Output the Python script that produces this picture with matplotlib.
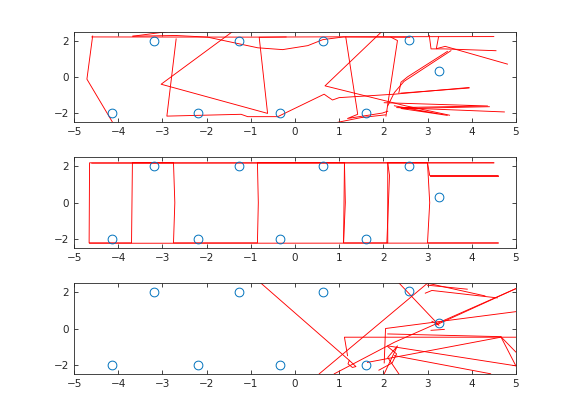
import matplotlib
matplotlib.use('Agg')
import matplotlib.pyplot as plt

# landmark positions
lm_x = [-4.15, -3.2, -2.2, -1.27, -0.33, 0.64, 1.6, 2.57, 3.27]
lm_y = [-2.0, 2.0, -2.0, 2.0, -2.0, 2.0, -2.0, 2.05, 0.33]

# estimated paths, top panel (noisy run)
top_paths = [
    ([-4.6, -1.0, 1.5, 4.5], [2.2, 2.19, 2.21, 2.22]),
    ([-4.58, -4.71, -4.12], [2.25, -0.13, -2.55]),
    ([-3.67, -2.8], [2.24, 2.52]),
    ([-3.67, -2.7, -1.98, -0.84, -0.28, 0.29, 0.63, 1.1, 2.6], [2.24, 2.28, 2.19, 1.6, 1.5, 1.72, 2.05, 2.2, 2.18]),
    ([-2.69, -2.9, -1.22, -1.07, -0.39, 0.66, 0.74, 0.85, 1.0, 2.25, 3.94],
     [2.09, -2.17, -2.07, -2.2, -2.2, -0.96, -1.1, -1.28, -1.15, -0.96, -0.59]),
    ([-1.41, -3.03, -0.62, -0.81, -0.2], [2.5, -0.41, -2.02, 2.18, 2.2]),
    ([1.15, 1.42, 1.19, 1.98, 2.1], [2.19, -2.07, -2.3, -2.0, -1.9]),
    ([0.89, 1.5, 2.05], [-2.55, -2.25, -2.1]),
    ([1.95, 0.68, 2.5, 3.5], [2.46, -0.5, -1.6, -2.12]),
    ([2.17, 2.32, 2.06], [2.19, 2.0, -2.17]),
    ([3.04, 3.08, 3.38, 4.55], [2.28, 1.54, 1.54, 1.44]),
    ([3.25, 3.2, 3.4, 4.81], [2.2, 1.55, 1.68, 0.7]),
    ([3.53, 2.47, 2.25, 2.1], [1.44, -0.25, -0.87, -1.6]),
    ([3.45, 2.55, 2.4, 2.35], [1.4, 0.0, -0.3, -0.9]),
    ([2.4, 3.94], [-0.9, -0.62]),
    ([2.02, 4.36, 2.3, 4.74], [-1.43, -1.61, -1.7, -1.94]),
    ([2.25, 3.45, 2.4, 4.4], [-1.6, -2.13, -1.75, -1.65]),
]

# middle panel (clean run)
mid_paths = [
    ([4.5, -4.65, -4.66, -3.7, -3.68, -2.75, -2.72, -2.75, -0.85, -0.83, -0.85,
      1.12, 1.1, 2.1, 2.1, 3.0, 3.05, 3.0, 4.6],
     [2.2, 2.2, -2.22, -2.22, 2.2, 2.2, 0.0, -2.22, -2.22, 0.0, 2.2,
      2.2, -2.22, -2.22, 2.2, 2.2, 0.0, -2.22, -2.22]),
    ([-4.6, 4.5], [2.18, 2.2]),
    ([-4.65, 4.6], [-2.24, -2.23]),
    ([3.0, 3.05, 4.6], [2.2, 1.5, 1.5]),
    ([3.05, 4.6], [1.45, 1.45]),
    ([1.12, 1.14, 1.1], [2.2, 0.0, -2.2]),
    ([2.1, 2.14, 2.08], [2.2, 1.5, -2.2]),
]

# bottom panel (diverged run)
bot_paths = [
    ([-0.77, 1.23, 1.38, 1.3, 1.2, 1.23], [2.5, -1.76, -2.1, -2.15, -1.95, -1.76]),
    ([0.55, 3.0], [-2.5, 2.5]),
    ([0.89, 2.25, 5.0], [-2.5, -0.76, 2.2]),
    ([1.19, 1.12, 5.0], [-1.5, -0.48, -0.48]),
    ([2.02, 2.05, 5.0], [-1.9, 0.0, 0.93]),
    ([2.1, 4.66, 5.0], [-0.3, -0.45, -1.3]),
    ([4.66, 5.0], [-0.45, -2.06]),
    ([2.1, 5.0], [-0.96, -2.06]),
    ([1.64, 4.66], [-1.87, -0.48]),
    ([2.02, 2.32, 2.1, 2.35], [-2.5, -0.96, -1.6, -2.5]),
    ([2.25, 4.43], [-1.5, -2.5]),
    ([2.32, 3.26, 3.1], [2.6, 0.18, 0.4]),
    ([3.0, 3.9], [2.39, 2.17]),
    ([2.95, 3.1, 4.58], [1.95, 2.1, 1.69]),
    ([3.0, 4.3], [2.5, 1.8]),
    ([3.08, 3.38], [-0.1, -0.05]),
    ([3.2, 5.0], [0.2, 2.2]),
    ([2.1, 2.3, 2.2, 1.9], [-1.0, -1.4, -1.9, -2.3]),
]

fig = plt.figure(figsize=(5.7, 4.2), dpi=100)
bottoms = [0.7093, 0.4096, 0.1100]
panels = [top_paths, mid_paths, bot_paths]

for b, paths in zip(bottoms, panels):
    ax = fig.add_axes([0.13, b, 0.775, 0.2157])
    for px, py in paths:
        ax.plot(px, py, color='#ff0000', lw=0.65)
    ax.plot(lm_x, lm_y, 'o', mfc='none', mec='#0072BD', ms=6.3, mew=0.7)
    ax.set_xlim(-5, 5)
    ax.set_ylim(-2.5, 2.5)
    ax.set_xticks(range(-5, 6))
    ax.set_yticks([-2, 0, 2])
    ax.tick_params(direction='in', top=True, right=True, length=3,
                   labelsize=7.5, colors='#262626', width=0.6)
    for s in ax.spines.values():
        s.set_color('#262626')
        s.set_linewidth(0.6)

plt.savefig('out.png', dpi=100)
